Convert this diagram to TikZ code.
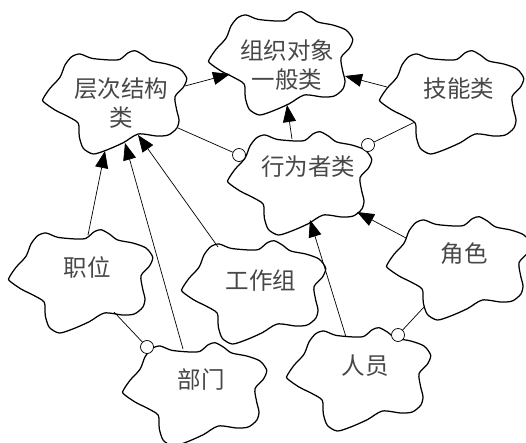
\documentclass[tikz,border=0pt]{standalone}
\usepackage{fontspec}
\setmainfont{Noto Sans CJK SC}
\usetikzlibrary{arrows.meta}
\tikzset{
  cloudline/.style={draw=black,line width=1.25pt,line join=round},
  cloudshape/.pic={
    \draw[cloudline] plot[smooth cycle,tension=0.45] coordinates {
      (43.3,98.3) (50,88.3) (60,77.3) (65,65) (71.7,56.7) (80,54) (91.7,58.3)
      (110,60) (120,59.3) (128.3,52.7) (135,50.7) (143.3,55) (151.7,61)
      (166.7,64) (180,69) (186.7,78.3) (183.3,87.3) (175,96.7) (176.7,110)
      (179,120) (176.7,128.3) (168.3,135) (156.7,136) (138.3,134) (123.3,142.7)
      (106.7,150) (93.3,154) (83.3,148.3) (79.3,136.7) (78.3,123.3) (68.3,116.7)
      (55,110) (43.3,101.7)};
  },
  label text/.style={font=\fontsize{23.5}{29}\selectfont,text=black!72,align=center,inner sep=0pt},
  conn/.style={draw=black,line width=0.7pt},
  arrowconn/.style={conn,-{Triangle[length=17pt,width=13pt]},shorten <=0pt},
  knob/.style={circle,draw=black,fill=white,line width=0.7pt,minimum size=13pt,inner sep=0pt},
}
\begin{document}
\begin{tikzpicture}[x=1pt,y=-1pt]
\useasboundingbox (0,0) rectangle (526,443);
% clouds
\pic at (0,0) {cloudshape};
\pic at (166,-39) {cloudshape};
\pic at (337,0) {cloudshape};
\pic at (185,81) {cloudshape};
\pic at (-34,179) {cloudshape};
\pic at (80,292) {cloudshape};
\pic at (139,190) {cloudshape};
\pic at (244,277) {cloudshape};
\pic at (344,166) {cloudshape};
% labels
\node[label text] (hier) at (121,103) {层次结构\\类};
\node[label text] (org) at (287,65) {组织对象\\一般类};
\node[label text] (skill) at (459,89) {技能类};
\node[label text] (actor) at (308,167) {行为者类};
\node[label text] (post) at (87,267) {职位};
\node[label text] (dept) at (201,380) {部门};
\node[label text] (team) at (261,281) {工作组};
\node[label text] (person) at (365,366) {人员};
\node[label text] (role) at (464,254) {角色};
% connector ends on cloud outlines
\coordinate (hierOut) at (185,86);
\coordinate (orgInH) at (230,74);
\coordinate (skillOut) at (387,87);
\coordinate (orgInS) at (345,76);
\coordinate (actorOut) at (292,139);
\coordinate (orgInA) at (287,105);
\coordinate (postOut) at (88,235);
\coordinate (hierInP) at (105,151);
\coordinate (deptOut) at (183,349);
\coordinate (hierInD) at (125,143);
\coordinate (teamOut) at (218,247);
\coordinate (hierInT) at (138,135);
\coordinate (personOut) at (346,337);
\coordinate (actorInP) at (310,220);
\coordinate (roleOut) at (406,238);
\coordinate (actorInR) at (357,212);
\coordinate (hierLink) at (178,128);
\coordinate (skillLink) at (415,122);
\coordinate (postLink) at (114,312);
\coordinate (roleLink) at (424,307);
% circles
\node[knob] (k1) at (239,155) {};
\node[knob] (k2) at (368,145) {};
\node[knob] (k3) at (147,347) {};
\node[knob] (k4) at (398,335) {};
% connectors
\draw[arrowconn] (hierOut) -- (orgInH);
\draw[arrowconn] (skillOut) -- (orgInS);
\draw[arrowconn] (actorOut) -- (orgInA);
\draw[arrowconn] (postOut) -- (hierInP);
\draw[arrowconn] (deptOut) -- (hierInD);
\draw[arrowconn] (teamOut) -- (hierInT);
\draw[arrowconn] (personOut) -- (actorInP);
\draw[arrowconn] (roleOut) -- (actorInR);
\draw[conn] (hierLink) -- (k1);
\draw[conn] (skillLink) -- (k2);
\draw[conn] (postLink) -- (k3);
\draw[conn] (roleLink) -- (k4);
\end{tikzpicture}
\end{document}
